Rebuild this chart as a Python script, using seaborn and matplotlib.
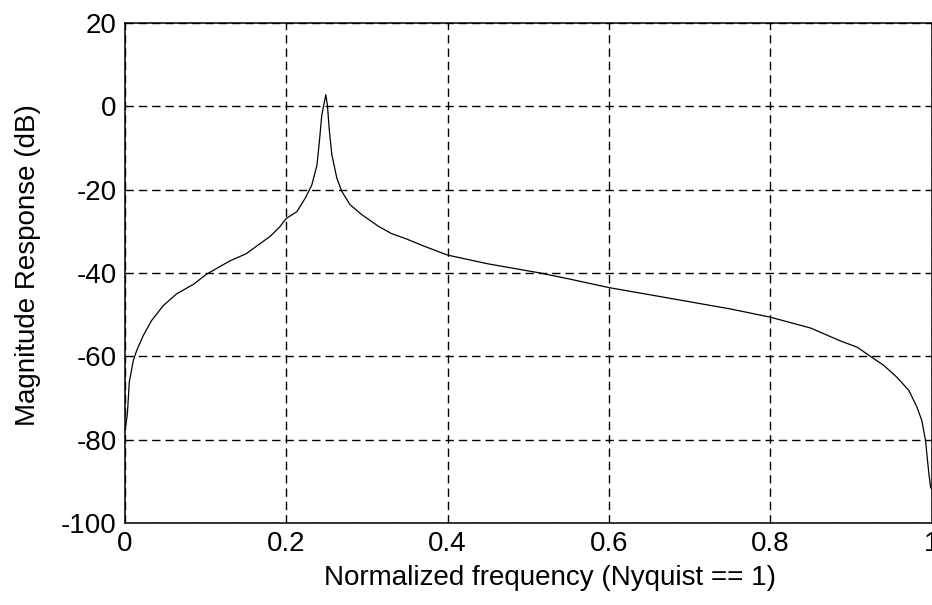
import numpy as np
import pandas as pd
import seaborn as sns
import matplotlib.pyplot as plt

# magnitude response
freq = [0.001, 0.003, 0.0053, 0.0103, 0.0145, 0.0227, 0.033, 0.0476, 0.064, 0.085,
        0.101, 0.13, 0.15, 0.16, 0.18, 0.192, 0.2, 0.213, 0.2233, 0.2316, 0.238,
        0.241, 0.244, 0.249, 0.251, 0.2535, 0.2565, 0.2626, 0.2688, 0.279, 0.2937,
        0.3143, 0.33, 0.35, 0.37, 0.4, 0.45, 0.5, 0.515, 0.55, 0.6, 0.65, 0.7,
        0.738, 0.75, 0.8, 0.85, 0.887, 0.9078, 0.9243, 0.941, 0.957, 0.972, 0.982,
        0.988, 0.9925, 0.9967, 0.999]
mag_db = [-76.6, -73.7, -66.2, -61.0, -58.6, -55.0, -51.4, -47.8, -45.0, -42.7,
          -40.3, -37.1, -35.4, -34.0, -31.2, -28.9, -26.9, -25.3, -22.1, -18.9, -14.1,
          -8.5, -2.1, 2.8, 0.2, -6.1, -11.6, -17.2, -20.4, -23.6, -26.0,
          -28.8, -30.5, -31.9, -33.5, -35.7, -37.8, -39.5, -40.0, -41.4, -43.5, -45.2, -46.9,
          -48.2, -48.6, -50.6, -53.2, -56.3, -57.8, -60.0, -62.2, -65.0, -68.2, -72.2,
          -75.4, -80.1, -88.1, -91.6]

x_ticks = [0, 0.2, 0.4, 0.6, 0.8, 1]
x_ticklabels = ["0", "0.2", "0.4", "0.6", "0.8", "1"]
y_ticks = [-100, -80, -60, -40, -20, 0, 20]
y_ticklabels = ["-100", "-80", "-60", "-40", "-20", "0", "20"]

df = pd.DataFrame({"freq": freq, "mag": mag_db})

sns.set_style("white")
plt.rcParams["font.family"] = ["Liberation Sans", "DejaVu Sans"]
plt.rcParams["axes.unicode_minus"] = False
plt.rcParams["text.color"] = "black"
plt.rcParams["axes.labelcolor"] = "black"

fig = plt.figure(figsize=(9.32, 6.05), dpi=100)
ax = fig.add_axes([125 / 932, 1 - 523 / 605, 806.5 / 932, 500 / 605])

sns.lineplot(data=df, x="freq", y="mag", color="black", linewidth=0.9,
             sort=False, estimator=None, ax=ax)

ax.set_xlim(0, 1)
ax.set_ylim(-100, 20)
ax.set_xticks(x_ticks)
ax.set_xticklabels(x_ticklabels)
ax.set_yticks(y_ticks)
ax.set_yticklabels(y_ticklabels)
ax.grid(True, color="black", linestyle=(0, (6, 3.6)), linewidth=1.0)
ax.tick_params(direction="in", length=4, width=1, labelsize=20, colors="black",
               pad=6)
for sp in ax.spines.values():
    sp.set_color("black")
    sp.set_linewidth(1.1)

ax.set_xlabel("Normalized frequency (Nyquist == 1)", fontsize=20, color="black")
ax.set_ylabel("Magnitude Response (dB)", fontsize=20, color="black")
ax.xaxis.set_label_coords((549.5 - 125) / 806, -(578 - 523) / 500)
ax.yaxis.set_label_coords(-(125 - 28) / 806, (523 - 265.5) / 500)
ax.xaxis.label.set_va("center")
ax.yaxis.label.set_va("center")

fig.savefig("out.png", dpi=100)
